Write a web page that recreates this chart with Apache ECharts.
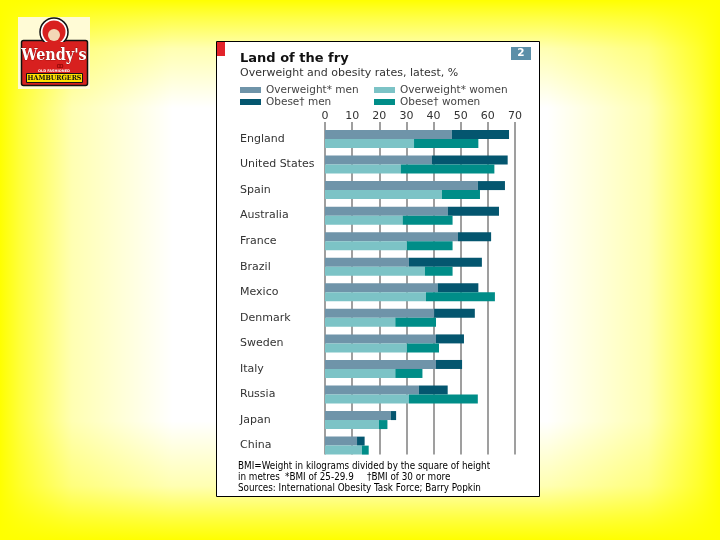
<!DOCTYPE html>
<html>
<head>
<meta charset="utf-8">
<script src="https://cdn.jsdelivr.net/npm/echarts@6/dist/echarts.min.js"></script>
<style>
html,body{margin:0;padding:0;}
#main{width:720px;height:540px;
background:
 linear-gradient(to right, rgba(255,255,0,1) 0%, rgba(255,255,0,0.75) 3%, rgba(255,255,0,0.3) 10%, rgba(255,255,0,0) 24%, rgba(255,255,0,0) 76%, rgba(255,255,0,0.3) 90%, rgba(255,255,0,0.75) 97%, rgba(255,255,0,1) 100%),
 linear-gradient(to bottom, rgba(255,255,0,1) 0%, rgba(255,255,0,0.75) 3%, rgba(255,255,0,0.3) 9%, rgba(255,255,0,0) 20%, rgba(255,255,0,0) 78%, rgba(255,255,0,0.3) 90%, rgba(255,255,0,0.75) 96%, rgba(255,255,0,1) 100%),
 #ffffff;}
</style>
</head>
<body>
<div id="main"></div>
<script>
var countries = ['England','United States','Spain','Australia','France','Brazil','Mexico','Denmark','Sweden','Italy','Russia','Japan','China'];
var overweightMen   = [46.7, 39.3, 56.3, 45.2, 49.0, 30.9, 41.5, 40.2, 40.9, 40.9, 34.6, 24.2, 11.8];
var obeseMen        = [21.1, 28.0, 10.0, 18.9, 12.2, 26.9, 15.0, 15.0, 10.3,  9.6, 10.6,  2.0,  2.8];
var overweightWomen = [32.8, 27.9, 43.1, 28.6, 30.2, 36.8, 37.2, 25.9, 30.2, 25.9, 30.9, 19.9, 13.6];
var obeseWomen      = [23.7, 34.5, 14.0, 18.4, 16.8, 10.2, 25.4, 15.0, 11.8, 10.0, 25.4,  3.1,  2.5];
var xTicks = [0, 10, 20, 30, 40, 50, 60, 70];
var seriesNames = ['Overweight* men', 'Obese\u2020 men', 'Overweight* women', 'Obese\u2020 women'];
var seriesColors = ['#6f94a9', '#04566f', '#7cc3c6', '#008d88'];

var FONT = 'DejaVu Sans';
var COND = 'DejaVu Sans Condensed, DejaVu Sans';

var chart = echarts.init(document.getElementById('main'), null, {renderer: 'canvas'});

function legendFor(i, left, top) {
  return {
    data: [seriesNames[i]], left: left, top: top, padding: 0,
    icon: 'rect', itemWidth: 21, itemHeight: 6, selectedMode: false,
    textStyle: {fontFamily: FONT, fontSize: 10.5, color: '#444'}
  };
}

var option = {
  animation: false,
  title: [
    {text: 'Land of the fry', left: 240, top: 52.5, padding: 0,
     textStyle: {fontFamily: FONT, fontSize: 13, fontWeight: 'bold', color: '#111'}},
    {text: 'Overweight and obesity rates, latest, %', left: 240, top: 68, padding: 0,
     textStyle: {fontFamily: FONT, fontSize: 11, fontWeight: 'normal', color: '#333'}}
  ],
  legend: [
    legendFor(0, 240, 84.5),
    legendFor(2, 374, 84.5),
    legendFor(1, 240, 96.5),
    legendFor(3, 374, 96.5)
  ],
  grid: [
    {left: 325, top: 122, width: 190, height: 332.5},
    {left: 325, top: 126.2, width: 190, height: 332.2}
  ],
  xAxis: [
    {gridIndex: 0, type: 'value', position: 'top', min: 0, max: 70, interval: 10,
     axisLine: {show: false}, axisTick: {show: false},
     splitLine: {show: true, lineStyle: {color: '#9f9f9f', width: 2}},
     axisLabel: {margin: 0, fontFamily: FONT, fontSize: 11, color: '#333',
       formatter: function (v) { return xTicks.indexOf(v) >= 0 ? String(v) : ''; }}},
    {gridIndex: 1, type: 'value', min: 0, max: 70, interval: 10, show: false,
     splitLine: {show: false}}
  ],
  yAxis: [
    {gridIndex: 0, type: 'value', min: 0, max: 1, show: false, splitLine: {show: false}},
    {gridIndex: 1, type: 'category', data: countries, inverse: true,
     axisLine: {show: false}, axisTick: {show: false}, splitLine: {show: false},
     axisLabel: {align: 'left', margin: 85, fontFamily: FONT, fontSize: 11, color: '#333'}}
  ],
  series: [
    {name: seriesNames[0], type: 'bar', xAxisIndex: 1, yAxisIndex: 1, stack: 'men',
     barWidth: 9, barGap: '0%', data: overweightMen, itemStyle: {color: seriesColors[0]}},
    {name: seriesNames[1], type: 'bar', xAxisIndex: 1, yAxisIndex: 1, stack: 'men',
     barWidth: 9, barGap: '0%', data: obeseMen, itemStyle: {color: seriesColors[1]}},
    {name: seriesNames[2], type: 'bar', xAxisIndex: 1, yAxisIndex: 1, stack: 'women',
     barWidth: 9, barGap: '0%', data: overweightWomen, itemStyle: {color: seriesColors[2]}},
    {name: seriesNames[3], type: 'bar', xAxisIndex: 1, yAxisIndex: 1, stack: 'women',
     barWidth: 9, barGap: '0%', data: obeseWomen, itemStyle: {color: seriesColors[3]}}
  ],
  graphic: [
    {type: 'rect', z: -10, shape: {x: 216.5, y: 41.5, width: 323, height: 455},
     style: {fill: '#ffffff', stroke: '#000000', lineWidth: 1}},
    {type: 'rect', z: -5, shape: {x: 217, y: 42, width: 8, height: 14}, style: {fill: '#e2232a'}},
    {type: 'rect', shape: {x: 511, y: 47, width: 20, height: 13}, style: {fill: '#5b8fa8'}},
    {type: 'text', x: 521, y: 53.5, style: {text: '2', fill: '#ffffff', font: 'bold 10.5px ' + FONT, textAlign: 'center', textVerticalAlign: 'middle'}},
    {type: 'text', x: 238, y: 466, style: {text: 'BMI=Weight in kilograms divided by the square of height', fill: '#000', font: '9.8px ' + COND, textVerticalAlign: 'middle'}},
    {type: 'text', x: 238, y: 477.5, style: {text: 'in metres', fill: '#000', font: '9.8px ' + COND, textVerticalAlign: 'middle'}},
    {type: 'text', x: 285, y: 477.5, style: {text: '*BMI of 25-29.9', fill: '#000', font: '9.8px ' + COND, textVerticalAlign: 'middle'}},
    {type: 'text', x: 367, y: 477.5, style: {text: '\u2020BMI of 30 or more', fill: '#000', font: '9.8px ' + COND, textVerticalAlign: 'middle'}},
    {type: 'text', x: 238, y: 488.5, style: {text: 'Sources: International Obesity Task Force; Barry Popkin', fill: '#000', font: '9.8px ' + COND, textVerticalAlign: 'middle'}},
    // Wendy's logo
    {type: 'rect', shape: {x: 18, y: 17, width: 72, height: 72}, style: {fill: '#fffbd6'}},
    {type: 'rect', shape: {x: 21.5, y: 40.5, width: 66, height: 45, r: 2}, style: {fill: '#d8201f', stroke: '#111', lineWidth: 1.5}},
    {type: 'circle', shape: {cx: 54, cy: 32, r: 14}, style: {fill: '#ffffff', stroke: '#111', lineWidth: 1.5}},
    {type: 'circle', shape: {cx: 54, cy: 32, r: 11.5}, style: {fill: '#d8201f'}},
    {type: 'circle', shape: {cx: 54, cy: 35, r: 6}, style: {fill: '#f3d7b6'}},
    {type: 'rect', shape: {x: 23, y: 42, width: 62, height: 6}, style: {fill: '#d8201f'}},
    {type: 'text', x: 54, y: 56, style: {text: "Wendy's", fill: '#ffffff', font: 'bold 16px DejaVu Serif Condensed, DejaVu Serif', textAlign: 'center', textVerticalAlign: 'middle', stroke: '#7a0000', lineWidth: 0.6}},
    {type: 'text', x: 60, y: 66, style: {text: 'ꝏ', fill: '#7a0000', font: '7px DejaVu Sans', textAlign: 'center', textVerticalAlign: 'middle'}},
    {type: 'text', x: 54, y: 71, style: {text: 'OLD FASHIONED', fill: '#ffffff', font: 'bold 3.5px DejaVu Sans', textAlign: 'center', textVerticalAlign: 'middle'}},
    {type: 'rect', shape: {x: 26.5, y: 73.5, width: 56, height: 9}, style: {fill: '#ffe100', stroke: '#111', lineWidth: 1}},
    {type: 'text', x: 54.5, y: 78.5, style: {text: 'HAMBURGERS', fill: '#111', font: 'bold 7px DejaVu Serif Condensed, DejaVu Serif', textAlign: 'center', textVerticalAlign: 'middle'}}
  ]
};
chart.setOption(option);
</script>
</body>
</html>
